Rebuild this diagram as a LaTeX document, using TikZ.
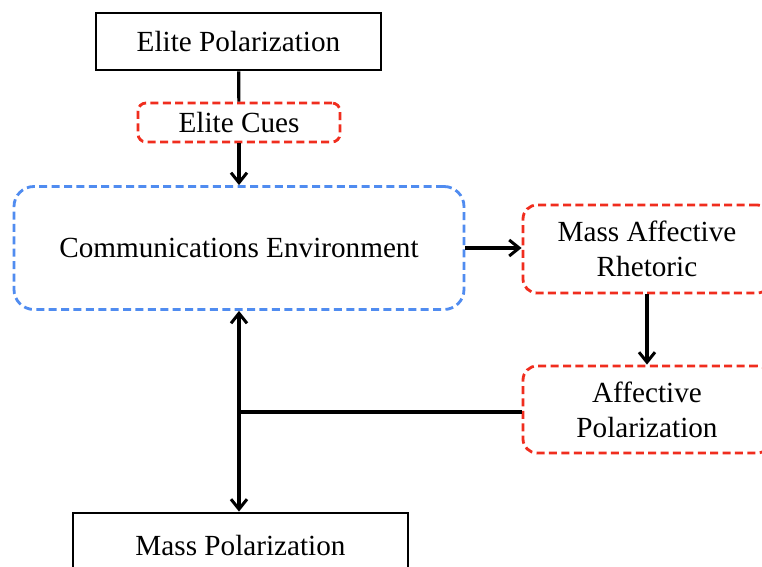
\documentclass[tikz,border=0pt]{standalone}
\usepackage{fontspec}
\setmainfont{Liberation Serif}
\usepackage{tikz}
\usetikzlibrary{arrows.meta}

\definecolor{cuered}{RGB}{240,45,30}
\definecolor{envblue}{RGB}{80,140,240}

\begin{document}
\begin{tikzpicture}[x=0.5pt,y=-0.5pt,->,>={Straight Barb[length=5pt,width=8pt,line width=1.5pt]},
  line width=1.6pt,
  solid box/.style={rectangle,draw=black,line width=1.4pt,inner sep=0pt,align=center,font=\fontsize{14.6}{17.5}\selectfont},
  red box/.style={solid box,draw=cuered,dash pattern=on 4pt off 2.2pt,rounded corners=7pt},
  blue box/.style={solid box,draw=envblue,dash pattern=on 4pt off 2.2pt,rounded corners=10pt}]

  \clip (0,0) rectangle (762,567);
  \fill[white] (0,0) rectangle (762,567);

  \node[solid box,minimum width=142.5pt,minimum height=28.5pt] (ep) at (238.5,41.5) {Elite Polarization};
  \node[red box,rounded corners=4pt,minimum width=101pt,minimum height=19.5pt] (ec) at (239,122.5) {Elite Cues};
  \node[blue box,minimum width=225pt,minimum height=61.5pt] (ce) at (239,248) {Communications Environment};
  \node[red box,minimum width=124pt,minimum height=44pt] (mar) at (647,249) {Mass Affective\\Rhetoric};
  \node[red box,minimum width=124pt,minimum height=43.5pt] (ap) at (647,409.5) {Affective\\Polarization};
  \node[solid box,minimum width=167.5pt,minimum height=33pt] (mp) at (240.5,546) {Mass Polarization};

  \coordinate (jn) at (239,412);

  \draw[-] (ep) -- (ec);
  \draw (ec) -- (ce);
  \draw (ce.east) -- (ce.east -| mar.west);
  \draw (mar) -- (ap);
  \draw[-] (ap.west |- jn) -- (jn);
  \draw (jn) -- (ce.south);
  \draw (jn) -- (jn |- mp.north);
\end{tikzpicture}
\end{document}
